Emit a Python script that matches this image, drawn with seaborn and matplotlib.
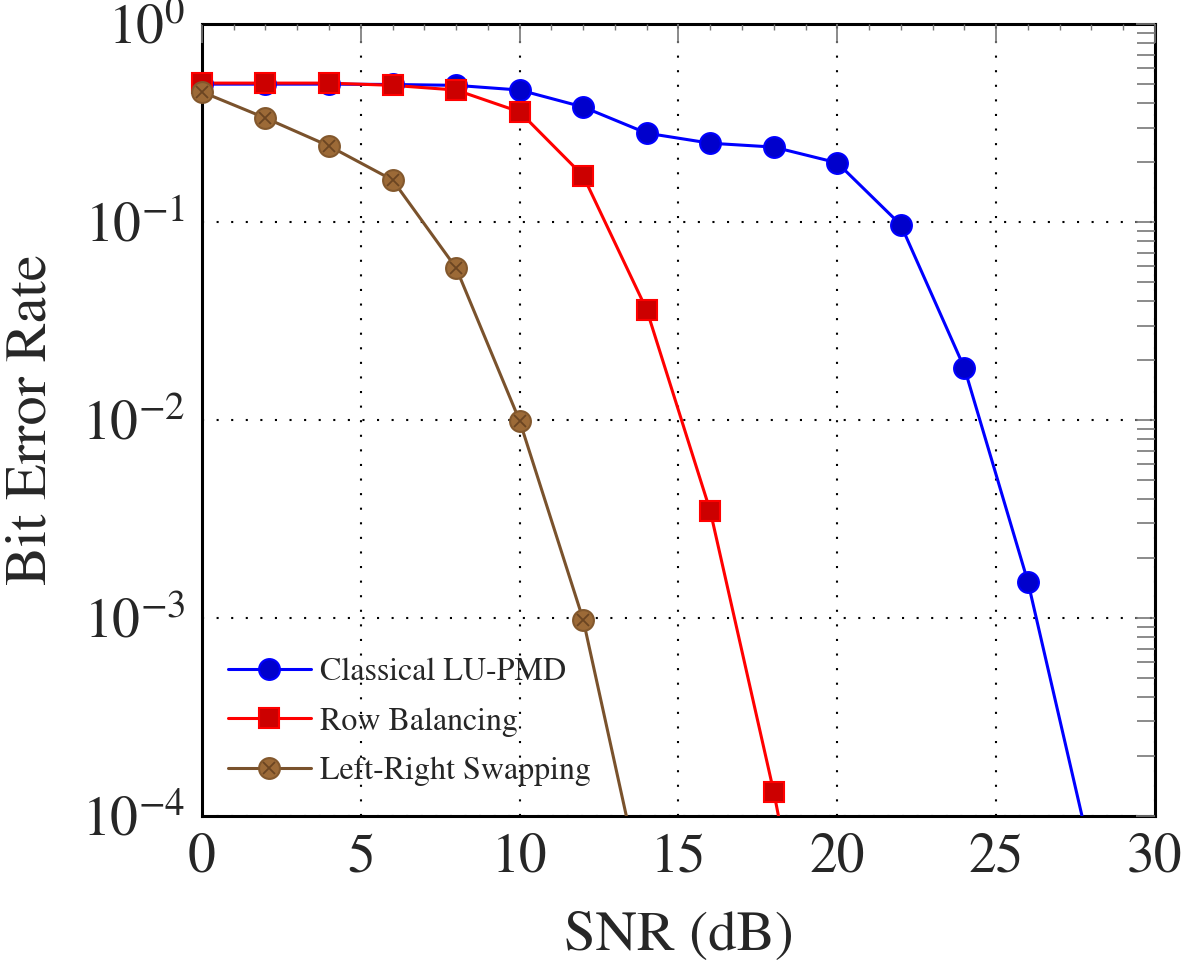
import numpy as np
import matplotlib
matplotlib.use("Agg")
import matplotlib.pyplot as plt
import seaborn as sns
from matplotlib.lines import Line2D
from matplotlib.legend_handler import HandlerTuple
from matplotlib.ticker import MultipleLocator, LogLocator

sns.set_theme(style="white")
plt.rcParams["font.family"] = ["STIXGeneral", "DejaVu Serif"]
plt.rcParams["mathtext.fontset"] = "stix"

# datos
snr_lu = [0, 2, 4, 6, 8, 10, 12, 14, 16, 18, 20, 22, 24, 26, 28]
ber_lu = [0.497, 0.497, 0.497, 0.495, 0.49, 0.464, 0.381, 0.281, 0.25, 0.239,
          0.199, 0.0966, 0.0183, 0.00152, 6.2e-5]

snr_rb = [0, 2, 4, 6, 8, 10, 12, 14, 16, 18, 20]
ber_rb = [0.503, 0.503, 0.503, 0.49, 0.464, 0.36, 0.171, 0.036, 0.00347, 1.32e-4, 3e-6]

snr_lr = [0, 2, 4, 6, 8, 10, 12, 14]
ber_lr = [0.454, 0.335, 0.242, 0.163, 0.0586, 0.0099, 9.8e-4, 3.4e-5]

labels = ["Classical LU-PMD", "Row Balancing", "Left-Right Swapping"]

fig = plt.figure(figsize=(11.81, 9.61), dpi=100)
ax = fig.add_axes([0.171, 0.151, 0.807, 0.824])
ax.set_yscale("log")

ymin, ymax = 1e-4, 1.0

styles = [
    dict(line="#0000ff", face="#0000cc", edge="#0000ff", marker="o", ms=15),
    dict(line="#ff0000", face="#cc0000", edge="#ff0000", marker="s", ms=15),
    dict(line="#7a522c", face="#9c6a37", edge="#83582d", marker="o", ms=15),
]
series = [(snr_lu, ber_lu), (snr_rb, ber_rb), (snr_lr, ber_lr)]

handles = []
for (x, y), st, lab in zip(series, styles, labels):
    x = np.array(x, dtype=float)
    y = np.array(y, dtype=float)
    sns.lineplot(x=x, y=y, ax=ax, color=st["line"], lw=2.2, zorder=3)
    m = y >= ymin
    ax.plot(x[m], y[m], ls="none", marker=st["marker"], ms=st["ms"],
            mfc=st["face"], mec=st["edge"], mew=1.5, zorder=4, clip_on=False)
    line_h = Line2D([], [], color=st["line"], lw=2.2, marker=st["marker"], ms=st["ms"],
                    mfc=st["face"], mec=st["edge"], mew=1.5)
    if lab == "Left-Right Swapping":
        ax.plot(x[m], y[m], ls="none", marker="x", ms=st["ms"] * 0.62,
                mec="#6b4522", mew=1.3, zorder=5, clip_on=False)
        cross_h = Line2D([], [], ls="none", marker="x", ms=st["ms"] * 0.62,
                         mec="#6b4522", mew=1.3)
        handles.append((line_h, cross_h))
    else:
        handles.append(line_h)

ax.set_xlim(0, 30)
ax.set_ylim(ymin, ymax)

# rejilla punteada
ax.grid(True, which="major", color="black", ls=(0, (1, 6)), lw=1.5)
ax.set_axisbelow(False)

ax.xaxis.set_major_locator(MultipleLocator(5))
ax.xaxis.set_minor_locator(MultipleLocator(1))
ax.yaxis.set_major_locator(LogLocator(base=10, numticks=10))
ax.yaxis.set_minor_locator(LogLocator(base=10, subs=np.arange(2, 10), numticks=10))

ax.tick_params(which="both", direction="in", top=True, right=True,
               color="#777777", labelsize=40, pad=12)
ax.tick_params(which="major", length=14, width=1.2)
ax.tick_params(axis="x", which="minor", length=4, width=1.0)
ax.tick_params(axis="y", which="minor", length=13, width=1.2)

for sp in ax.spines.values():
    sp.set_color("black")
    sp.set_linewidth(2.2)

ax.set_xlabel("SNR (dB)", fontsize=41, labelpad=20)
ax.set_ylabel("Bit Error Rate", fontsize=42, labelpad=17)

ax.legend(handles, labels, loc="lower left", bbox_to_anchor=(0.0136, 0.021),
          borderaxespad=0, frameon=False, fontsize=23, handlelength=2.6,
          handletextpad=0.3, labelspacing=0.64,
          handler_map={tuple: HandlerTuple(ndivide=1)})

fig.savefig("out.png", dpi=100)
